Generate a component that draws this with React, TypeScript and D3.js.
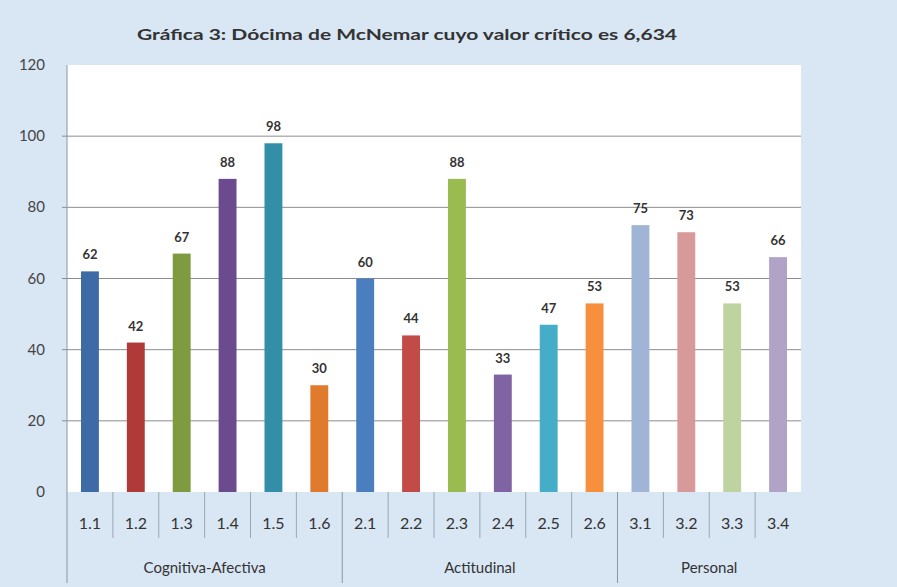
import { useEffect, useRef } from "react";
import * as d3 from "d3";

const categories = ["1.1", "1.2", "1.3", "1.4", "1.5", "1.6", "2.1", "2.2", "2.3", "2.4", "2.5", "2.6", "3.1", "3.2", "3.3", "3.4"];
const values = [62, 42, 67, 88, 98, 30, 60, 44, 88, 33, 47, 53, 75, 73, 53, 66];
const colors = [
  "#3e6aa5", "#b03a38", "#7e9b40", "#6b4b8e", "#338ea8", "#e07b2e",
  "#4a7ebe", "#c24b48", "#99bb50", "#7f63a3", "#45adc8", "#f6903d",
  "#a0b4d6", "#d8999a", "#bfd3a0", "#b1a3c8",
];
const groups = ["Cognitiva-Afectiva", "Actitudinal", "Personal"];
const groupSizes = [6, 6, 4];
const yTicks = [0, 20, 40, 60, 80, 100, 120];
const title = "Gráfica 3: Dócima de McNemar cuyo valor crítico es 6,634";

function drawChart(svgEl: SVGSVGElement) {
  const width = 897;
  const height = 587;
  const left = 67;
  const right = 801;
  const top = 65;
  const bottom = 492;
  const font = "Lato, 'Open Sans', sans-serif";

  const svg = d3.select(svgEl);
  svg.selectAll("*").remove();

  svg.append("rect").attr("width", width).attr("height", height).attr("fill", "#d9e6f4");
  svg.append("rect")
    .attr("x", left).attr("y", top)
    .attr("width", right - left).attr("height", bottom - top)
    .attr("fill", "#ffffff");

  const x = d3.scaleBand().domain(categories).range([left, right]).paddingInner(0.61).paddingOuter(0.305);
  const y = d3.scaleLinear().domain([0, 120]).range([bottom, top]);

  // title
  svg.append("text")
    .attr("x", 407).attr("y", 40)
    .attr("text-anchor", "middle")
    .attr("font-family", font).attr("font-weight", "bold").attr("font-size", 16)
    .attr("fill", "#333")
    .attr("textLength", 540).attr("lengthAdjust", "spacingAndGlyphs")
    .text(title);

  // gridlines
  svg.append("g")
    .selectAll("line")
    .data(yTicks.filter((t) => t > 0 && t < 120))
    .join("line")
    .attr("x1", left - 5).attr("x2", right)
    .attr("y1", (d) => y(d)).attr("y2", (d) => y(d))
    .attr("stroke", "#8c8c8c").attr("stroke-width", 1);

  // y labels
  svg.append("g")
    .selectAll("text")
    .data(yTicks)
    .join("text")
    .attr("x", 45).attr("y", (d) => y(d) + 5)
    .attr("text-anchor", "end")
    .attr("font-family", font).attr("font-size", 15)
    .attr("fill", "#444")
    .text((d) => d);

  // bars
  svg.append("g")
    .selectAll("rect")
    .data(values)
    .join("rect")
    .attr("x", (d, i) => x(categories[i])!)
    .attr("y", (d) => y(d))
    .attr("width", x.bandwidth())
    .attr("height", (d) => bottom - y(d))
    .attr("fill", (d, i) => colors[i]);

  // value labels
  svg.append("g")
    .selectAll("text")
    .data(values)
    .join("text")
    .attr("x", (d, i) => x(categories[i])! + x.bandwidth() / 2)
    .attr("y", (d) => y(d) - 12)
    .attr("text-anchor", "middle")
    .attr("font-family", font).attr("font-weight", "bold").attr("font-size", 13)
    .attr("fill", "#333")
    .text((d) => d);

  // x axis: category separators
  const step = x.step();
  const boundaries = d3.range(1, categories.length).map((i) => left + i * step);
  const groupEdges = d3.cumsum(groupSizes).slice(0, -1).map((n) => left + n * step);
  svg.append("g")
    .selectAll("line")
    .data(boundaries.filter((b) => !groupEdges.includes(b)))
    .join("line")
    .attr("x1", (d) => d).attr("x2", (d) => d)
    .attr("y1", bottom).attr("y2", 538)
    .attr("stroke", "#9aa6b5").attr("stroke-width", 1);
  svg.append("g")
    .selectAll("line")
    .data([left, ...groupEdges])
    .join("line")
    .attr("x1", (d) => d).attr("x2", (d) => d)
    .attr("y1", (d) => (d === left ? top : bottom)).attr("y2", 583)
    .attr("stroke", "#8c96a3").attr("stroke-width", 1);

  // category labels
  svg.append("g")
    .selectAll("text")
    .data(categories)
    .join("text")
    .attr("x", (d) => x(d)! + x.bandwidth() / 2)
    .attr("y", 529)
    .attr("text-anchor", "middle")
    .attr("font-family", font).attr("font-size", 16)
    .attr("fill", "#333")
    .text((d) => d);

  // group labels
  const starts = [0, ...d3.cumsum(groupSizes)];
  svg.append("g")
    .selectAll("text")
    .data(groups)
    .join("text")
    .attr("x", (d, i) => left + ((starts[i] + starts[i + 1]) / 2) * step)
    .attr("y", 573)
    .attr("text-anchor", "middle")
    .attr("font-family", font).attr("font-size", 15)
    .attr("fill", "#333")
    .text((d) => d);
}

export default function App() {
  const svgRef = useRef<SVGSVGElement>(null);
  useEffect(() => {
    if (svgRef.current) drawChart(svgRef.current);
  }, []);
  return (
    <div style={{ position: "absolute", left: 0, top: 0 }}>
      <svg ref={svgRef} width={897} height={587} style={{ display: "block" }} />
    </div>
  );
}
